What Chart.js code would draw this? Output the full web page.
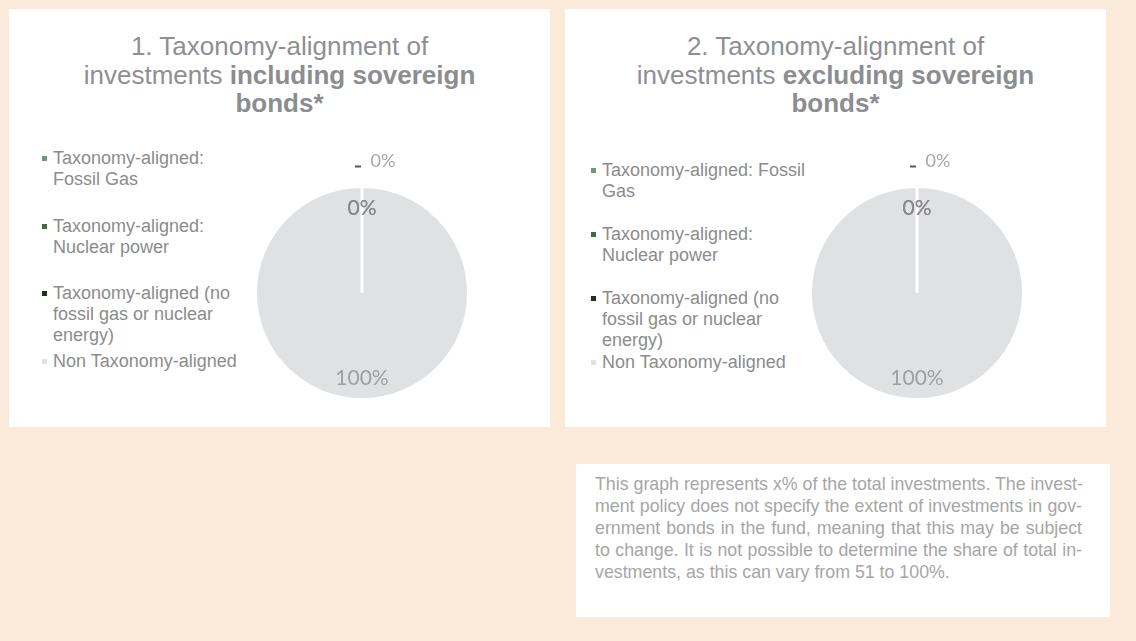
<!DOCTYPE html>
<html>
<head>
<meta charset="utf-8">
<script src="https://cdn.jsdelivr.net/npm/chart.js@4.4.1/dist/chart.umd.min.js"></script>
<style>
  html, body { margin: 0; padding: 0; }
  body { width: 1136px; height: 641px; background: #fbeada; position: relative; overflow: hidden;
         font-family: "Liberation Sans", Arial, sans-serif; }
  .panel { position: absolute; background: #ffffff; }
  .title { position: absolute; left: 0; right: 0; text-align: center; color: #8e8f93;
           font-size: 26px; line-height: 28.5px; }
  .title b { color: #8c8d91; }
  .legend { position: absolute; color: #8c8c8c; font-size: 18px; line-height: 21px; }
  .legend .item { position: absolute; left: 0; padding-left: 11px; }
  .legend .mk { position: absolute; left: 0; top: 8px; width: 5px; height: 5px; }
  canvas { position: absolute; }
  .note { position: absolute; left: 576px; top: 464px; width: 534px; height: 153px; background: #fff;
          color: #a6a6a6; font-size: 17.8px; line-height: 22px; }
  .note .ln { position: absolute; left: 19px; width: 487px; text-align: justify; text-align-last: justify; white-space: nowrap; }
  .note .ln.last { text-align-last: left; }
</style>
</head>
<body>
<div class="panel" id="p1" style="left:9px; top:9px; width:541px; height:418px;">
  <div class="title" style="top:23px;">1. Taxonomy-alignment of<br>investments <b>including sovereign<br>bonds*</b></div>
</div>
<div class="panel" id="p2" style="left:565px; top:9px; width:541px; height:418px;">
  <div class="title" style="top:23px;">2. Taxonomy-alignment of<br>investments <b>excluding sovereign<br>bonds*</b></div>
</div>
<div id="lg1" class="legend" style="left:42px; top:148px; width:206px;"></div>
<div id="lg2" class="legend" style="left:591px; top:160px; width:224px;"></div>
<canvas id="c1" width="260" height="300" style="left:232px; top:143px; width:260px; height:300px;"></canvas>
<canvas id="c2" width="260" height="300" style="left:787px; top:143px; width:260px; height:300px;"></canvas>
<div class="note" id="note"></div>
<script>
// ---- data ----
const categories = [
  "Taxonomy-aligned: Fossil Gas",
  "Taxonomy-aligned: Nuclear power",
  "Taxonomy-aligned (no fossil gas or nuclear energy)",
  "Non Taxonomy-aligned"
];
const valuesIncludingSovereign = [0, 0, 0, 100];
const valuesExcludingSovereign = [0, 0, 0, 100];
const sliceColors = ["#6f9b6f", "#3e6e3e", "#1c331c", "#e0e1e3"];
const noteLines = [
  "This graph represents x% of the total investments. The invest-",
  "ment policy does not specify the extent of investments in gov-",
  "ernment bonds in the fund, meaning that this may be subject",
  "to change. It is not possible to determine the share of total in-",
  "vestments, as this can vary from 51 to 100%."
];

// ---- note box ----
const note = document.getElementById('note');
noteLines.forEach((t, i) => {
  const d = document.createElement('div');
  d.className = 'ln' + (i === noteLines.length - 1 ? ' last' : '');
  d.style.top = (9 + i * 22) + 'px';
  d.textContent = t;
  note.appendChild(d);
});

// ---- legends ----
function buildLegend(id, width, step) {
  const lg = document.getElementById(id);
  categories.forEach((c, i) => {
    const it = document.createElement('div');
    it.className = 'item';
    it.style.top = (i * step) + 'px';
    it.style.width = width + 'px';
    const mk = document.createElement('span');
    mk.className = 'mk';
    mk.style.background = sliceColors[i];
    it.appendChild(mk);
    it.appendChild(document.createTextNode(c));
    lg.appendChild(it);
  });
}
buildLegend('lg1', 195, 67.7);
buildLegend('lg2', 212, 64);

// ---- data labels plugin ----
const pieLabels = {
  id: 'pieLabels',
  afterDatasetsDraw(chart) {
    const ctx = chart.ctx;
    const meta = chart.getDatasetMeta(0);
    const data = chart.data.datasets[0].data;
    let zeroSeen = 0;
    meta.data.forEach((arc, i) => {
      const p = arc.getProps(['x', 'y', 'startAngle', 'endAngle', 'outerRadius'], true);
      const mid = (p.startAngle + p.endAngle) / 2;
      const v = data[i];
      const txt = v + '%';
      ctx.save();
      ctx.textAlign = 'center';
      ctx.textBaseline = 'middle';
      if (v === 0 && zeroSeen === 0) {
        // outside label with short leader
        ctx.font = '18px Lato, "Open Sans", sans-serif';
        const lx = p.x + Math.cos(mid) * (p.outerRadius + 25) + 21;
        const ly = p.y + Math.sin(mid) * (p.outerRadius + 25);
        ctx.fillStyle = '#a6a6a6';
        ctx.fillText(txt, lx, ly);
        ctx.fillStyle = '#595959';
        ctx.fillRect(p.x - 7 + Math.cos(mid) * (p.outerRadius + 21), p.y + Math.sin(mid) * (p.outerRadius + 21), 6, 2);
      } else {
        ctx.font = '21px Lato, "Open Sans", sans-serif';
        const r = p.outerRadius * 0.8;
        ctx.fillStyle = v === 0 ? '#8a8a8a' : '#a0a0a0';
        ctx.fillText(txt, p.x + Math.cos(mid) * r, p.y + Math.sin(mid) * r);
      }
      if (v === 0) zeroSeen++;
      ctx.restore();
    });
  }
};

function makePie(id, values) {
  new Chart(document.getElementById(id), {
    type: 'pie',
    data: {
      labels: categories,
      datasets: [{
        data: values,
        backgroundColor: sliceColors,
        borderColor: '#ffffff',
        borderWidth: 3,
        hoverOffset: 0,
        offset: 0
      }]
    },
    options: {
      responsive: false,
      animation: false,
      devicePixelRatio: 1,
      layout: { padding: { top: 42, bottom: 42, left: 22, right: 22 } },
      plugins: {
        legend: { display: false },
        tooltip: { enabled: false },
        title: { display: false }
      }
    },
    plugins: [pieLabels]
  });
}
makePie('c1', valuesIncludingSovereign);
makePie('c2', valuesExcludingSovereign);
</script>
</body>
</html>
